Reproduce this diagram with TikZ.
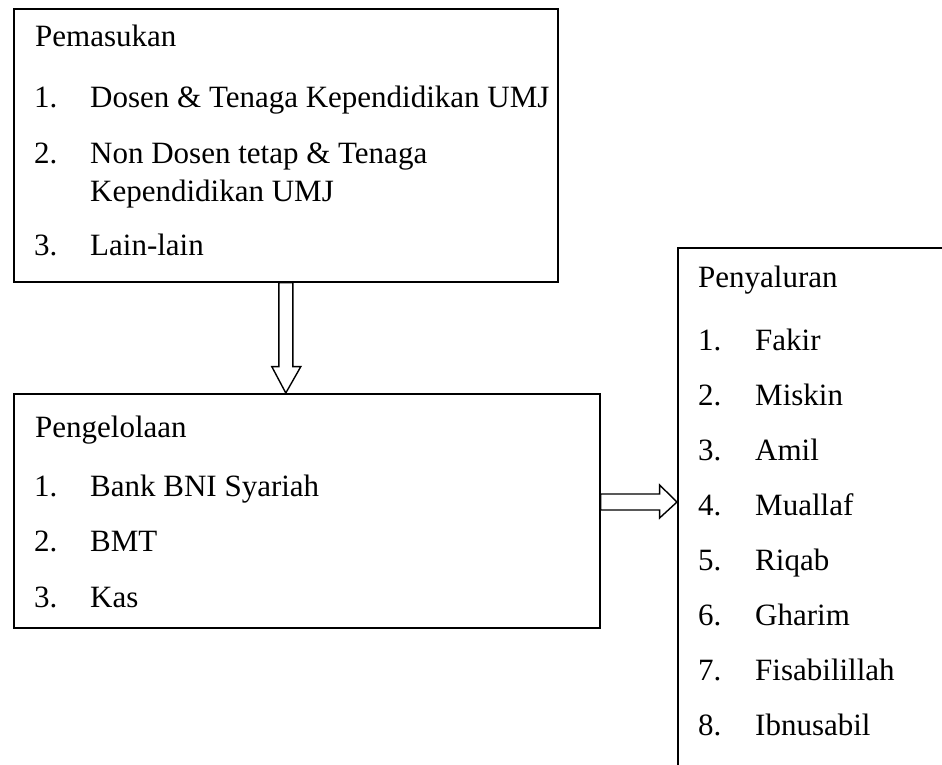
\documentclass[tikz,border=0pt]{standalone}
\usepackage{fontspec}
\setmainfont{Liberation Serif}
\usetikzlibrary{calc}
\begin{document}
\begin{tikzpicture}[x=1pt,y=-1pt,
  boxframe/.style={draw=black,line width=1.6pt,fill=none},
  blockarrow/.style={draw=black,line width=1.4pt,fill=white,line join=miter},
  txt/.style={anchor=base west,inner sep=0pt,font=\fontsize{31}{37}\selectfont}]
\useasboundingbox (0,0) rectangle (942,765);
\clip (0,0) rectangle (942,765);
% boxes
\node[boxframe,inner sep=0pt,minimum width=544pt,minimum height=273pt,anchor=north west] (pem) at (13,8) {};
\node[boxframe,inner sep=0pt,minimum width=586pt,minimum height=234pt,anchor=north west] (peng) at (13,393) {};
\node[boxframe,inner sep=0pt,minimum width=300pt,minimum height=560pt,anchor=north west] (peny) at (677,247) {};
% box 1 text
\node[txt] (t0) at (35,47) {Pemasukan};
\node[txt] (t1n) at (34,108) {1.};
\node[txt] (t1) at (90,108) {Dosen \& Tenaga Kependidikan UMJ};
\node[txt] (t2n) at (34,164) {2.};
\node[txt] (t2) at (90,164) {Non Dosen tetap \& Tenaga};
\node[txt] (t2b) at (90,201) {Kependidikan UMJ};
\node[txt] (t3n) at (34,255) {3.};
\node[txt] (t3) at (90,255) {Lain-lain};
% box 2 text
\node[txt] (g0) at (35,437) {Pengelolaan};
\node[txt] (g1n) at (34,496) {1.};
\node[txt] (g1) at (90,496) {Bank BNI Syariah};
\node[txt] (g2n) at (34,551) {2.};
\node[txt] (g2) at (90,551) {BMT};
\node[txt] (g3n) at (34,607) {3.};
\node[txt] (g3) at (90,607) {Kas};
% box 3 text
\node[txt] (p0) at (698,287) {Penyaluran};
\foreach \i/\w in {1/Fakir,2/Miskin,3/Amil,4/Muallaf,5/Riqab,6/Gharim,7/Fisabilillah,8/Ibnusabil}{
  \node[txt] (pn\i) at (698,{295+55*\i}) {\i.};
  \node[txt] (p\i) at (755,{295+55*\i}) {\w};
}
% down block arrow from pem to peng
\coordinate (dtop) at (pem.south);
\coordinate (dtip) at (dtop |- peng.north);
\draw[blockarrow] ($(dtop)+(-7,0)$) -- ($(dtop)+(7,0)$) -- ($(dtop)+(7,84)$) -- ($(dtop)+(15,84)$)
  -- (dtip) -- ($(dtop)+(-14,84)$) -- ($(dtop)+(-7,84)$) -- cycle;
% right block arrow from peng to peny
\coordinate (rs) at (peng.east |- 0,502);
\coordinate (rtip) at (peny.west |- 0,502);
\draw[blockarrow] ($(rs)+(0,-8)$) -- ($(rs)+(59,-8)$) -- ($(rs)+(59,-17)$) -- (rtip)
  -- ($(rs)+(59,16)$) -- ($(rs)+(59,8)$) -- ($(rs)+(0,8)$) -- cycle;
\end{tikzpicture}
\end{document}
